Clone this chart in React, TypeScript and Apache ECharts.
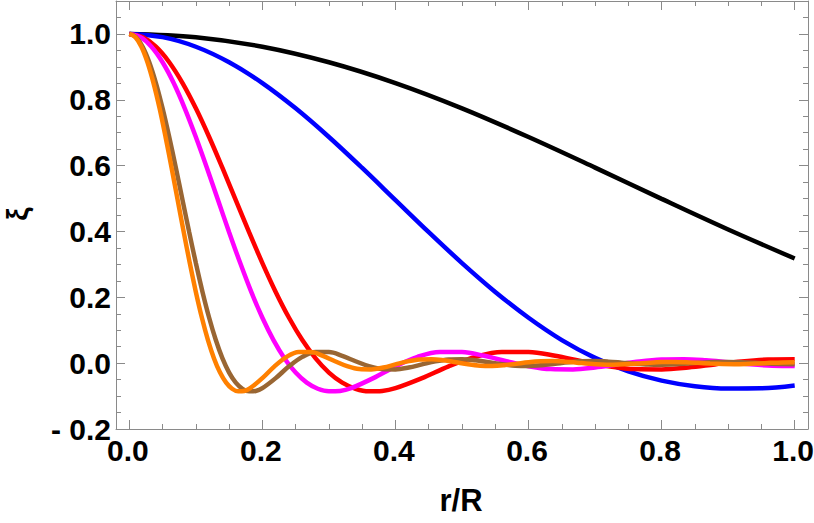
import React, { useEffect, useRef } from "react";
import * as echarts from "echarts";

// ---- tick values ----
const xMajor = [0, 0.2, 0.4, 0.6, 0.8, 1.0];
const xMinor = [0, 0.05, 0.1, 0.15, 0.2, 0.25, 0.3, 0.35, 0.4, 0.45, 0.5, 0.55, 0.6, 0.65, 0.7, 0.75, 0.8, 0.85, 0.9, 0.95, 1.0];
const yMajor = [-0.2, 0, 0.2, 0.4, 0.6, 0.8, 1.0];
const yMinor = [-0.2, -0.15, -0.1, -0.05, 0, 0.05, 0.1, 0.15, 0.2, 0.25, 0.3, 0.35, 0.4, 0.45, 0.5, 0.55, 0.6, 0.65, 0.7, 0.75, 0.8, 0.85, 0.9, 0.95, 1.0, 1.05];

// ---- series data ----
const blackX = [0, 0.1, 0.2, 0.3, 0.4, 0.5, 0.6, 0.7, 0.8, 0.9, 1.0];
const blackY = [1, 0.9902, 0.9611, 0.9139, 0.8507, 0.774, 0.6869, 0.594, 0.499, 0.406, 0.318];

const blueX = [0, 0.05, 0.1, 0.15, 0.2, 0.25, 0.3, 0.35, 0.4, 0.45, 0.5, 0.55, 0.6, 0.65, 0.7, 0.75, 0.8, 0.85, 0.9, 0.95, 1.0];
const blueY = [1, 0.9902, 0.9611, 0.9139, 0.8507, 0.774, 0.6869, 0.5928, 0.4953, 0.3979, 0.304, 0.2164, 0.1379, 0.0701, 0.016, -0.025, -0.053, -0.07, -0.077, -0.0765, -0.068];

const redX = [0, 0.02, 0.04, 0.06, 0.08, 0.1, 0.12, 0.14, 0.16, 0.18, 0.2, 0.22, 0.24, 0.26, 0.28, 0.3, 0.32, 0.34, 0.36, 0.38, 0.4,
  0.44, 0.48, 0.52, 0.56, 0.6, 0.64, 0.68, 0.72, 0.76, 0.8, 0.84, 0.88, 0.92, 0.96, 1.0];
const redY = [1, 0.9902, 0.9611, 0.9139, 0.8507, 0.774, 0.6869, 0.5928, 0.4953, 0.3979, 0.304, 0.2164, 0.1379, 0.0701, 0.0144, -0.0287, -0.0592, -0.0778, -0.0857, -0.0844, -0.076,
  -0.0455, -0.0097, 0.0191, 0.034, 0.0338, 0.0223, 0.0058, -0.0092, -0.0181, -0.019, -0.0132, -0.0038, 0.0054, 0.0112, 0.0122];

const magentaX = [0, 0.0167, 0.0333, 0.05, 0.0667, 0.0833, 0.1, 0.1167, 0.1333, 0.15, 0.1667, 0.1833, 0.2, 0.2167, 0.2333, 0.25, 0.2667, 0.2833, 0.3, 0.3167, 0.3333,
  0.3667, 0.4, 0.4333, 0.4667, 0.5, 0.5333, 0.5667, 0.6, 0.6333, 0.6667, 0.7, 0.7333, 0.7667, 0.8, 0.8333, 0.8667, 0.9, 0.9333, 0.9667, 1.0];
const magentaY = [1, 0.9902, 0.9611, 0.9139, 0.8507, 0.774, 0.6869, 0.5928, 0.4953, 0.3979, 0.304, 0.2164, 0.1379, 0.0701, 0.0144, -0.0287, -0.0592, -0.0778, -0.0857, -0.0844, -0.076,
  -0.0455, -0.0097, 0.0191, 0.034, 0.0338, 0.0223, 0.0058, -0.0092, -0.0181, -0.019, -0.0132, -0.0038, 0.0054, 0.0112, 0.0122, 0.0087, 0.0026, -0.0035, -0.0076, -0.0084];

const brownX = [0, 0.01, 0.02, 0.03, 0.04, 0.05, 0.06, 0.07, 0.08, 0.09, 0.1, 0.11, 0.12, 0.13, 0.14, 0.15, 0.16, 0.17, 0.18, 0.19, 0.2,
  0.22, 0.24, 0.26, 0.28, 0.3, 0.32, 0.34, 0.36, 0.38, 0.4, 0.42, 0.44, 0.46, 0.48, 0.5, 0.52, 0.54, 0.56, 0.58, 0.6,
  0.62, 0.64, 0.66, 0.68, 0.7, 0.72, 0.74, 0.76, 0.78, 0.8, 0.82, 0.84, 0.86, 0.88, 0.9, 0.92, 0.94, 0.96, 0.98, 1.0];
const brownY = [1, 0.9902, 0.9611, 0.9139, 0.8507, 0.774, 0.6869, 0.5928, 0.4953, 0.3979, 0.304, 0.2164, 0.1379, 0.0701, 0.0144, -0.0287, -0.0592, -0.0778, -0.0857, -0.0844, -0.076,
  -0.0455, -0.0097, 0.0191, 0.034, 0.0338, 0.0223, 0.0058, -0.0092, -0.0181, -0.019, -0.0132, -0.0038, 0.0054, 0.0112, 0.0122, 0.0087, 0.0026, -0.0035, -0.0076, -0.0084,
  -0.0062, -0.0019, 0.0025, 0.0055, 0.0062, 0.0046, 0.0015, -0.0018, -0.0042, -0.0048, -0.0036, -0.0012, 0.0014, 0.0033, 0.0038, 0.0028, 0.001, -0.0011, -0.0026, -0.003];

const orangeX = [0, 0.0091, 0.0182, 0.0273, 0.0364, 0.0455, 0.0545, 0.0636, 0.0727, 0.0818, 0.0909, 0.1, 0.1091, 0.1182, 0.1273, 0.1364, 0.1455, 0.1545, 0.1636, 0.1727, 0.1818,
  0.2, 0.2182, 0.2364, 0.2545, 0.2727, 0.2909, 0.3091, 0.3273, 0.3455, 0.3636, 0.3818, 0.4, 0.4182, 0.4364, 0.4545, 0.4727, 0.4909, 0.5091, 0.5273, 0.5455,
  0.5636, 0.5818, 0.6, 0.6182, 0.6364, 0.6545, 0.6727, 0.6909, 0.7091, 0.7273, 0.7455, 0.7636, 0.7818, 0.8, 0.8182, 0.8364, 0.8545, 0.8727, 0.8909, 0.9091,
  0.9273, 0.9455, 0.9636, 0.9818, 1.0];
const orangeY = [1, 0.9902, 0.9611, 0.9139, 0.8507, 0.774, 0.6869, 0.5928, 0.4953, 0.3979, 0.304, 0.2164, 0.1379, 0.0701, 0.0144, -0.0287, -0.0592, -0.0778, -0.0857, -0.0844, -0.076,
  -0.0455, -0.0097, 0.0191, 0.034, 0.0338, 0.0223, 0.0058, -0.0092, -0.0181, -0.019, -0.0132, -0.0038, 0.0054, 0.0112, 0.0122, 0.0087, 0.0026, -0.0035, -0.0076, -0.0084,
  -0.0062, -0.0019, 0.0025, 0.0055, 0.0062, 0.0046, 0.0015, -0.0018, -0.0042, -0.0048, -0.0036, -0.0012, 0.0014, 0.0033, 0.0038, 0.0028, 0.001, -0.0011, -0.0026, -0.003,
  -0.0023, -0.0008, 0.0009, 0.0022, 0.0025];

const curves = [
  { name: "black", color: "#000000", xs: blackX, ys: blackY },
  { name: "blue", color: "#0000ff", xs: blueX, ys: blueY },
  { name: "red", color: "#ff0000", xs: redX, ys: redY },
  { name: "magenta", color: "#ff00ff", xs: magentaX, ys: magentaY },
  { name: "brown", color: "#996633", xs: brownX, ys: brownY },
  { name: "orange", color: "#ff8000", xs: orangeX, ys: orangeY },
];

const FONT = "'Liberation Sans', Arial, sans-serif";
const FRAME = "#8a8a8a";
const labelStyle = { color: "#000", fontSize: 30, fontWeight: "bold" as const, fontFamily: FONT };
const fmt = (v: number) => (v < 0 ? "- " + Math.abs(v).toFixed(1) : v.toFixed(1));

function makeX(position: "top" | "bottom", ticks: number[], len: number, showLine: boolean, showLabel: boolean) {
  return {
    type: "value",
    min: -0.02,
    max: 1.02,
    position,
    gridIndex: 0,
    axisLine: { show: showLine, onZero: false, lineStyle: { color: FRAME, width: 1 } },
    axisTick: { show: true, inside: true, length: len, customValues: ticks, lineStyle: { color: FRAME, width: 1 } },
    axisLabel: showLabel
      ? { show: true, customValues: ticks, formatter: fmt, margin: 6, padding: [0, 3, 0, 0], ...labelStyle }
      : { show: false },
    splitLine: { show: false },
    minorTick: { show: false },
  };
}
function makeY(position: "left" | "right", ticks: number[], len: number, showLine: boolean, showLabel: boolean) {
  return {
    type: "value",
    min: -0.2,
    max: 1.1,
    position,
    gridIndex: 0,
    axisLine: { show: showLine, onZero: false, lineStyle: { color: FRAME, width: 1 } },
    axisTick: { show: true, inside: true, length: len, customValues: ticks, lineStyle: { color: FRAME, width: 1 } },
    axisLabel: showLabel
      ? { show: true, customValues: ticks, formatter: fmt, margin: 5, ...labelStyle }
      : { show: false },
    splitLine: { show: false },
    minorTick: { show: false },
  };
}

export default function App() {
  const ref = useRef<HTMLDivElement>(null);
  useEffect(() => {
    if (!ref.current) return;
    const chart = echarts.init(ref.current, null, { renderer: "svg" });
    const option: any = {
      animation: false,
      backgroundColor: "#ffffff",
      grid: { left: 116, right: 6, top: 1, bottom: 94, containLabel: false, outerBoundsMode: "none" },
      xAxis: [
        makeX("bottom", xMajor, 9, true, true),
        makeX("bottom", xMinor, 5, false, false),
        makeX("top", xMajor, 9, true, false),
        makeX("top", xMinor, 5, false, false),
      ],
      yAxis: [
        makeY("left", yMajor, 9, true, true),
        makeY("left", yMinor, 5, false, false),
        makeY("right", yMajor, 9, true, false),
        makeY("right", yMinor, 5, false, false),
      ],
      series: curves.map((c) => ({
        name: c.name,
        type: "line",
        xAxisIndex: 0,
        yAxisIndex: 0,
        data: c.xs.map((x, i) => [x, c.ys[i]]),
        showSymbol: false,
        smooth: 0.35,
        lineStyle: { color: c.color, width: 4.5 },
        itemStyle: { color: c.color },
      })),
      graphic: [
        {
          type: "text",
          x: 17,
          y: 214,
          rotation: Math.PI / 2,
          style: { text: "ξ", fill: "#000", font: `bold 30px ${FONT}`, align: "center", verticalAlign: "middle" },
        },
        {
          type: "text",
          x: 461,
          y: 500,
          style: { text: "r/R", fill: "#000", font: `bold 31px ${FONT}`, align: "center", verticalAlign: "middle" },
        },
      ],
    };
    chart.setOption(option);
    return () => chart.dispose();
  }, []);
  return (
    <div
      ref={ref}
      style={{ position: "fixed", left: 0, top: 0, width: 814, height: 523, background: "#fff" }}
    />
  );
}
